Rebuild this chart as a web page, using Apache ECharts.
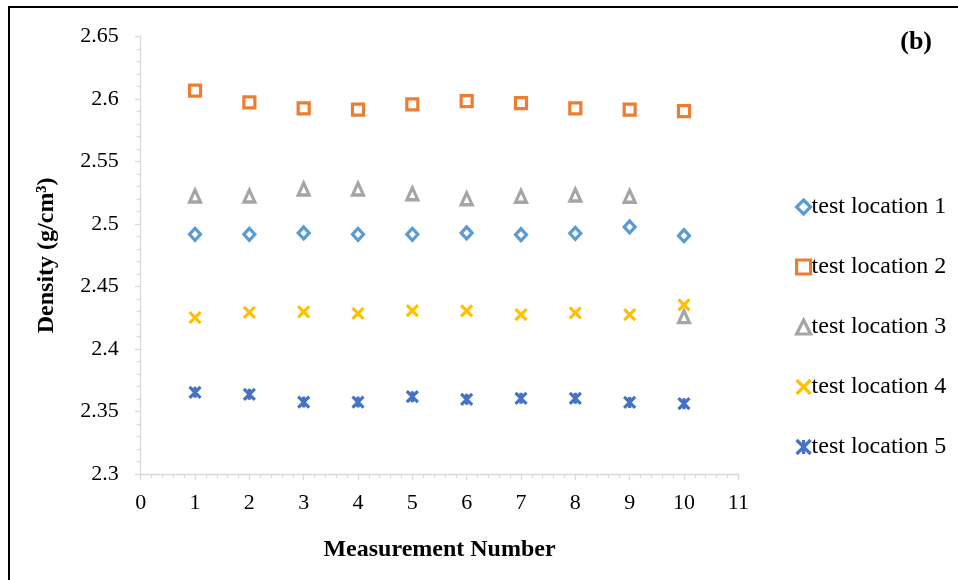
<!DOCTYPE html>
<html>
<head>
<meta charset="utf-8">
<script src="https://cdn.jsdelivr.net/npm/echarts@6/dist/echarts.min.js"></script>
<style>
html,body{margin:0;padding:0;background:#fff;}
#c{width:958px;height:580px;}
</style>
</head>
<body>
<div id="c"></div>
<script>
const measurement = [1, 2, 3, 4, 5, 6, 7, 8, 9, 10];
const loc1 = [2.4918, 2.4918, 2.4929, 2.4918, 2.4918, 2.4929, 2.4915, 2.4926, 2.4977, 2.4907];
const loc2 = [2.6068, 2.5975, 2.5927, 2.5916, 2.5959, 2.5985, 2.5969, 2.5927, 2.5916, 2.5905];
const loc3 = [2.5225, 2.5225, 2.5281, 2.5281, 2.5243, 2.5203, 2.5223, 2.5233, 2.5223, 2.4259];
const loc4 = [2.4251, 2.4294, 2.4297, 2.4286, 2.4307, 2.4305, 2.4275, 2.4289, 2.4275, 2.4353];
const loc5 = [2.3654, 2.3638, 2.3576, 2.3576, 2.3619, 2.3598, 2.3606, 2.3606, 2.3573, 2.3563];
const seriesNames = ['test location 1', 'test location 2', 'test location 3', 'test location 4', 'test location 5'];
const yTicks = [2.3, 2.35, 2.4, 2.45, 2.5, 2.55, 2.6, 2.65];

const FONT = '"Liberation Serif", "Times New Roman", serif';
const BW = 3.2;
const pts = (ys) => measurement.map((x, i) => [x, ys[i]]);

const mk = (name, ys, symbol, color, size) => ({
  name: name,
  type: 'scatter',
  data: pts(ys),
  symbol: symbol,
  symbolSize: size,
  itemStyle: { color: '#fff', borderColor: color, borderWidth: BW, opacity: 1 },
  emphasis: { disabled: true }
});

const chart = echarts.init(document.getElementById('c'));
chart.setOption({
  animation: false,
  backgroundColor: '#fff',
  textStyle: { fontFamily: FONT },
  grid: { left: 140.7, right: 219.7, top: 36.7, bottom: 106 },
  title: {
    text: '(b)', right: 21, top: 24,
    textStyle: { fontFamily: FONT, fontWeight: 'bold', fontSize: 26, color: '#000' }
  },
  legend: {
    orient: 'vertical', left: 790, top: 190,
    itemWidth: 14, itemHeight: 14, itemGap: 36,
    itemStyle: { borderWidth: BW },
    textStyle: { fontFamily: FONT, fontSize: 24, color: '#000', padding: [0, 0, 0, -4] },
    data: seriesNames.map((n) => ({ name: n, itemStyle: { borderWidth: BW } }))
  },
  xAxis: {
    type: 'value', min: 0, max: 11, interval: 1,
    name: 'Measurement Number', nameLocation: 'middle', nameGap: 64,
    nameTextStyle: { fontFamily: FONT, fontWeight: 'bold', fontSize: 24, color: '#000' },
    axisLine: { show: true, onZero: false, lineStyle: { color: '#d9d9d9', width: 1.3 } },
    axisTick: { show: true, length: 6, lineStyle: { color: '#d9d9d9', width: 1.3 } },
    minorTick: { show: true, splitNumber: 5, length: 4, lineStyle: { color: '#d9d9d9', width: 1.3 } },
    splitLine: { show: false },
    axisLabel: { fontFamily: FONT, fontSize: 22, color: '#000', margin: 18 }
  },
  yAxis: {
    type: 'value', min: yTicks[0], max: yTicks[yTicks.length - 1], interval: 0.05,
    name: 'Density (g/cm³)', nameLocation: 'middle', nameGap: 82, nameRotate: 90,
    nameTextStyle: { fontFamily: FONT, fontWeight: 'bold', fontSize: 24, color: '#000' },
    axisLine: { show: true, onZero: false, lineStyle: { color: '#d9d9d9', width: 1.3 } },
    axisTick: { show: true, length: 6, lineStyle: { color: '#d9d9d9', width: 1.3 } },
    minorTick: { show: true, splitNumber: 5, length: 4, lineStyle: { color: '#d9d9d9', width: 1.3 } },
    splitLine: { show: false },
    axisLabel: {
      fontFamily: FONT, fontSize: 22, color: '#000', margin: 22,
      formatter: (v) => String(parseFloat(v.toFixed(2)))
    }
  },
  graphic: [
    { type: 'line', shape: { x1: 9, y1: 7, x2: 9, y2: 580 }, style: { stroke: '#000', lineWidth: 2 } },
    { type: 'line', shape: { x1: 8, y1: 7, x2: 958, y2: 7 }, style: { stroke: '#000', lineWidth: 2 } }
  ],
  series: [
    mk(seriesNames[0], loc1, 'diamond', '#5B9BD5', [11, 12]),
    mk(seriesNames[1], loc2, 'rect', '#ED7D31', 11),
    mk(seriesNames[2], loc3, 'triangle', '#A5A5A5', [11, 12]),
    mk(seriesNames[3], loc4, 'path://M0,0L10,10M10,0L0,10', '#FFC000', 11),
    mk(seriesNames[4], loc5, 'path://M0,0L10,10M10,0L0,10M5,0L5,10', '#4472C4', 11)
  ]
});
</script>
</body>
</html>
